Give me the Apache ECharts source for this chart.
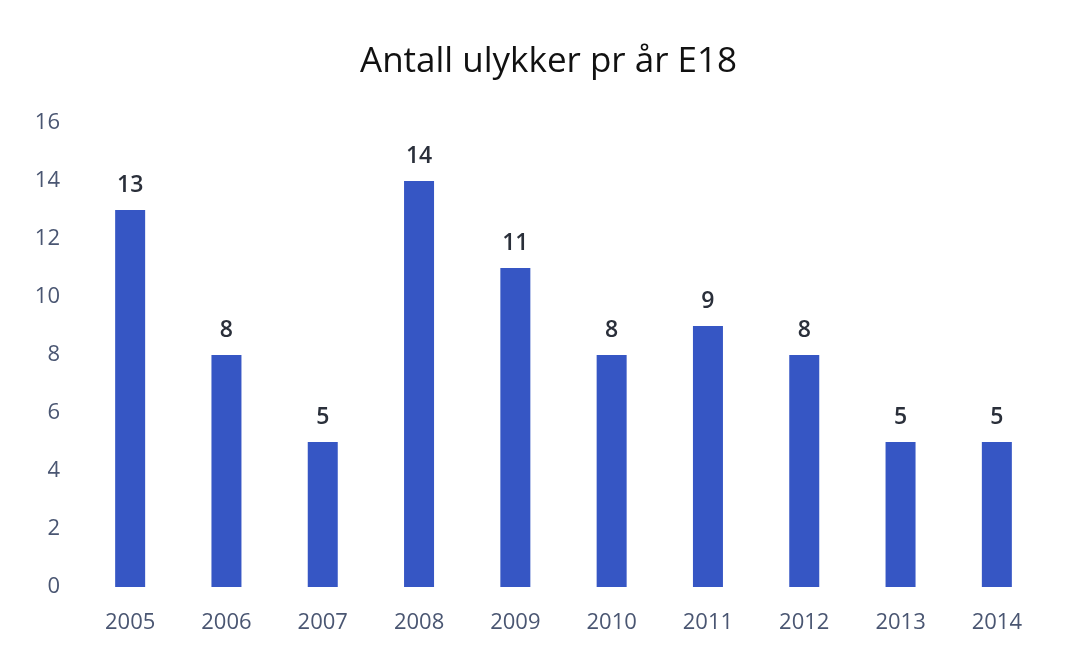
<!DOCTYPE html>
<html>
<head>
<meta charset="utf-8">
<script src="https://cdn.jsdelivr.net/npm/echarts@6/dist/echarts.min.js"></script>
<style>
  html, body { margin: 0; padding: 0; background: #fff; }
  #chart { width: 1065px; height: 649px; }
</style>
</head>
<body>
<div id="chart"></div>
<script>
const years = ['2005', '2006', '2007', '2008', '2009', '2010', '2011', '2012', '2013', '2014']
const accidents = [13, 8, 5, 14, 11, 8, 9, 8, 5, 5]

const chart = echarts.init(document.getElementById('chart'))
const font = '"Open Sans", "Noto Sans", sans-serif'

const option = {
  backgroundColor: '#fff',
  title: {
    text: 'Antall ulykker pr år E18',
    left: 355,
    top: 40,
    textStyle: { fontFamily: font, fontSize: 35, fontWeight: 'normal', color: '#111' },
  },
  grid: { left: 82, right: 20, top: 123, bottom: 62 },
  xAxis: {
    type: 'category',
    data: years,
    axisLine: { show: false },
    axisTick: { show: false },
    axisLabel: { fontFamily: font, fontSize: 22, color: '#4a5672', margin: 25 },
  },
  yAxis: {
    type: 'value',
    min: 0,
    max: 16,
    interval: 2,
    splitLine: { show: false },
    axisLine: { show: false },
    axisTick: { show: false },
    axisLabel: { fontFamily: font, fontSize: 22, color: '#4a5672', margin: 22 },
  },
  series: [{
    type: 'bar',
    data: accidents,
    barWidth: 30,
    itemStyle: { color: '#3656c4' },
    label: {
      show: true,
      position: 'top',
      distance: 13,
      fontFamily: font,
      fontSize: 23,
      fontWeight: 600,
      color: '#2a2f3a',
    },
  }],
}
chart.setOption(option)
</script>
</body>
</html>
